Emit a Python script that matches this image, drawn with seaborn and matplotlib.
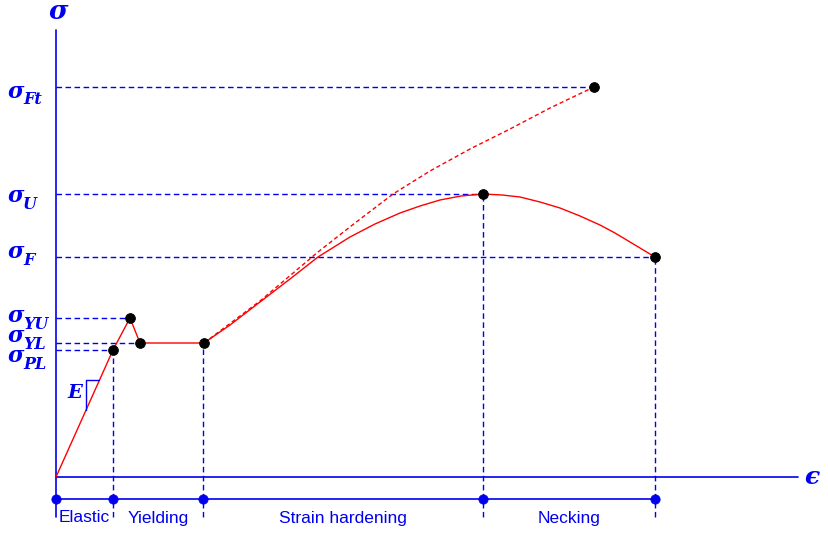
import numpy as np
import pandas as pd
import matplotlib
matplotlib.use("Agg")
import matplotlib.pyplot as plt
import seaborn as sns

# elastic + yielding part of the curve (engineering stress vs strain)
yield_eps = [0.0, 0.57, 0.74, 0.84, 1.48]
yield_sig = [0.0, 1.27, 1.59, 1.34, 1.34]

# strain hardening + necking (engineering curve)
eng_eps = [1.48, 1.74, 2.04, 2.34, 2.62, 2.94, 3.19, 3.44, 3.64, 3.84, 4.05,
           4.27, 4.46, 4.64, 4.84, 5.04, 5.24, 5.44, 5.59, 5.74, 5.99]
eng_sig = [1.34, 1.52, 1.75, 1.98, 2.20, 2.40, 2.53, 2.64, 2.71, 2.77, 2.81,
           2.83, 2.82, 2.80, 2.75, 2.69, 2.61, 2.52, 2.44, 2.35, 2.20]

# true stress curve (dashed)
true_eps = [1.48, 2.04, 2.62, 2.99, 3.37, 3.74, 4.14, 4.54, 4.94, 5.38]
true_sig = [1.34, 1.76, 2.25, 2.54, 2.83, 3.06, 3.28, 3.48, 3.69, 3.90]

# marked points
pt_eps = [0.57, 0.74, 0.84, 1.48, 4.27, 5.99, 5.38]
pt_sig = [1.27, 1.59, 1.34, 1.34, 2.83, 2.20, 3.90]

# stress levels drawn to the sigma axis
level_subs = ["Ft", "U", "F", "YU", "YL", "PL"]
level_sig = [3.90, 2.83, 2.20, 1.59, 1.34, 1.27]
level_end = [5.38, 4.27, 5.99, 0.74, 0.84, 0.57]
label_sig = [3.855, 2.81, 2.245, 1.61, 1.41, 1.21]

# stages along the strain axis
stage_eps = [0.0, 0.57, 1.47, 4.27, 5.99]
stage_top = [0.0, 1.27, 1.34, 2.83, 2.20]
stage_names = ["Elastic", "Yielding", "Strain hardening", "Necking"]

sns.set_style("white")
plt.rcParams["font.family"] = ["Liberation Sans", "DejaVu Sans"]

blue = "#0000ee"
red = "#ff0000"
dash = (0, (4, 2.5))
sym = dict(family="DejaVu Serif", weight="bold", style="italic", color=blue)

fig = plt.figure(figsize=(8.29, 5.33), dpi=100)
ax = fig.add_axes([0, 0, 1, 1])
ax.set_xlim(-0.56, 7.73)
ax.set_ylim(-0.56, 4.77)
ax.axis("off")

# axes
ax.plot([0, 0], [-0.40, 4.47], color=blue, lw=1.2)
ax.plot([0, 7.42], [0, 0], color=blue, lw=1.2)
ax.text(0.02, 4.65, "σ", fontsize=19, ha="center", va="center", **sym)
ax.text(7.56, 0.0, "ϵ", fontsize=18, ha="center", va="center", **sym)

# dashed guide lines
for s, e in zip(level_sig, level_end):
    ax.plot([0, e], [s, s], color=blue, lw=1.0, linestyle=dash)
for e, top in zip(stage_eps[1:], stage_top[1:]):
    ax.plot([e, e], [-0.40, top], color=blue, lw=1.0, linestyle=dash)

# sigma labels with big subscripts
for sub, s in zip(level_subs, label_sig):
    t = ax.text(-0.485, s, "σ", fontsize=16, ha="left", va="center", **sym)
    ax.annotate(sub, xy=(0.95, 0.12), xycoords=t, ha="left", va="center",
                fontsize=11.5, **sym)

# curves
sns.lineplot(x=yield_eps, y=yield_sig, sort=False, estimator=None, color=red, lw=1.0, ax=ax)
sns.lineplot(x=eng_eps, y=eng_sig, sort=False, estimator=None, color=red, lw=1.0, ax=ax)
sns.lineplot(x=true_eps, y=true_sig, sort=False, estimator=None, color=red, lw=1.0,
             linestyle=(0, (3, 2)), ax=ax)
sns.scatterplot(x=pt_eps, y=pt_sig, color="black", s=50, edgecolor="black", zorder=5, ax=ax)

# E triangle
ax.plot([0.30, 0.30, 0.435], [0.67, 0.97, 0.97], color=blue, lw=1.0)
ax.text(0.19, 0.84, "E", fontsize=14, ha="center", va="center", **sym)

# stage band
ax.plot([stage_eps[0], stage_eps[-1]], [-0.22, -0.22], color=blue, lw=1.2)
sns.scatterplot(x=stage_eps, y=[-0.22] * len(stage_eps), color=blue, s=45,
                edgecolor=blue, zorder=5, ax=ax)
for a, b, name in zip(stage_eps[:-1], stage_eps[1:], stage_names):
    ax.text((a + b) / 2, -0.41, name, color=blue, fontsize=12.5, ha="center", va="center")

fig.savefig("out.png", dpi=100)
